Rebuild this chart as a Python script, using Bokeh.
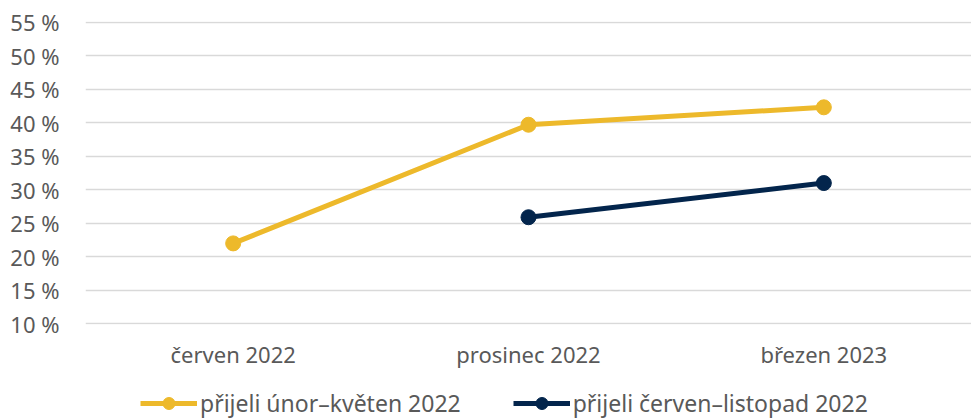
from bokeh.plotting import figure
from bokeh.layouts import column
from bokeh.models import Range1d, FixedTicker, PrintfTickFormatter, Legend, LegendItem, ColumnDataSource
from bokeh.embed import file_html
from bokeh.resources import INLINE

categories = ["červen 2022", "prosinec 2022", "březen 2023"]
series_a_name = "přijeli únor–květen 2022"
series_a = [22.0, 39.7, 42.3]
series_b_name = "přijeli červen–listopad 2022"
series_b = [None, 25.9, 31.0]
y_ticks = [10, 15, 20, 25, 30, 35, 40, 45, 50, 55]

FONT = "Noto Sans"
TXT = "#595959"
YELLOW = "#EDB92B"
NAVY = "#03254C"
FS = "22px"
LEFT = 85

# ---- main chart ----
p = figure(width=971, height=373, x_range=categories, y_range=Range1d(9.9, 55.1),
           output_backend="svg", toolbar_location=None,
           min_border_left=LEFT, min_border_right=0, min_border_top=21, min_border_bottom=49)
p.outline_line_color = None

src_a = ColumnDataSource(dict(x=categories, y=series_a))
b_x = [c for c, v in zip(categories, series_b) if v is not None]
b_y = [v for v in series_b if v is not None]
src_b = ColumnDataSource(dict(x=b_x, y=b_y))

p.line("x", "y", source=src_a, line_color=YELLOW, line_width=5)
p.scatter("x", "y", source=src_a, size=15, fill_color=YELLOW, line_color=YELLOW)
p.line("x", "y", source=src_b, line_color=NAVY, line_width=5)
p.scatter("x", "y", source=src_b, size=15, fill_color=NAVY, line_color=NAVY)

p.xgrid.grid_line_color = None
p.ygrid.grid_line_color = "#D9D9D9"
p.ygrid.grid_line_width = 1.7

p.yaxis.ticker = FixedTicker(ticks=y_ticks)
p.yaxis.formatter = PrintfTickFormatter(format="%d %%")
for ax in (p.xaxis, p.yaxis):
    ax.axis_line_color = None
    ax.major_tick_line_color = None
    ax.minor_tick_line_color = None
    ax.major_label_text_font = FONT
    ax.major_label_text_font_size = FS
    ax.major_label_text_color = TXT
p.yaxis.major_label_standoff = 20
p.xaxis.major_label_standoff = 8

# ---- legend strip (same data, y-range outside the data so only the legend shows) ----
q = figure(width=971, height=46, x_range=p.x_range, y_range=Range1d(100, 110),
           output_backend="svg", toolbar_location=None, x_axis_type=None, y_axis_type=None,
           min_border_left=LEFT, min_border_right=0, min_border_top=0, min_border_bottom=0)
q.outline_line_color = None
q.grid.grid_line_color = None
la = q.line("x", "y", source=src_a, line_color=YELLOW, line_width=5)
ca = q.scatter("x", "y", source=src_a, size=15, fill_color=YELLOW, line_color=YELLOW)
lb = q.line("x", "y", source=src_b, line_color=NAVY, line_width=5)
cb = q.scatter("x", "y", source=src_b, size=15, fill_color=NAVY, line_color=NAVY)

legend = Legend(items=[LegendItem(label=series_a_name, renderers=[la, ca]),
                       LegendItem(label=series_b_name, renderers=[lb, cb])],
                orientation="horizontal", location=(140 - LEFT, 0),
                label_text_font=FONT, label_text_font_size="23px", label_text_color=TXT,
                glyph_width=57, glyph_height=30, label_standoff=3, spacing=52,
                margin=0, padding=0, border_line_color=None, background_fill_alpha=0)
q.add_layout(legend, "center")

layout = column(p, q, spacing=0)
open("out.html", "w").write(file_html(layout, INLINE))
